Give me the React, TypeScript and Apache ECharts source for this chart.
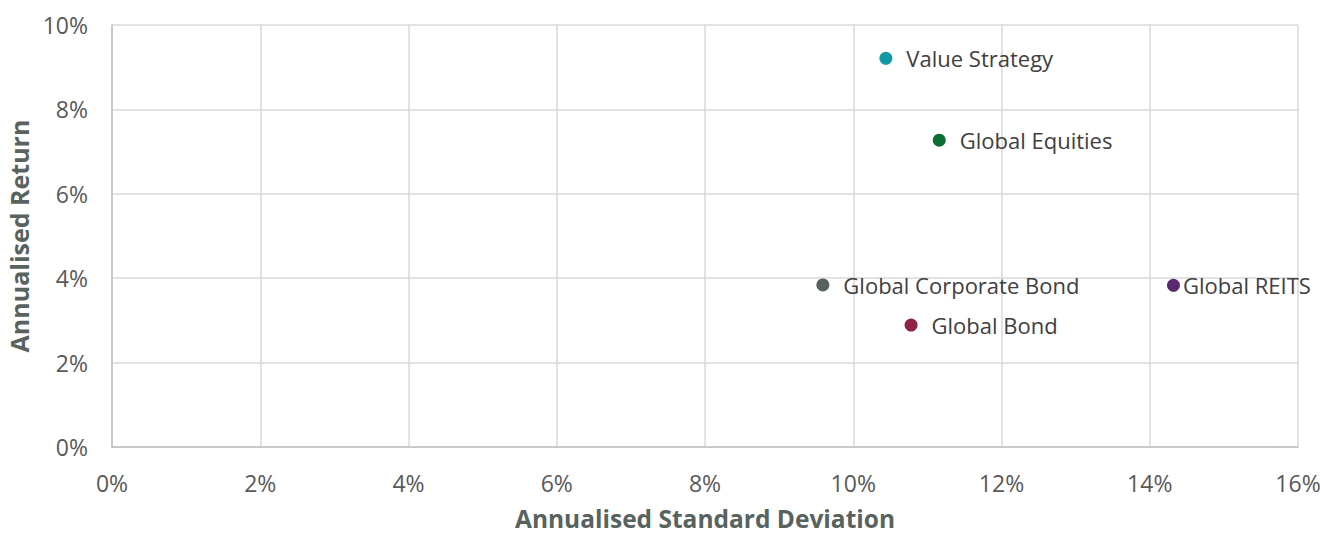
import React, { useEffect, useRef } from "react";
import * as echarts from "echarts";

const names = ["Value Strategy", "Global Equities", "Global Corporate Bond", "Global REITS", "Global Bond"];
const stdDev = [10.44, 11.16, 9.59, 14.32, 10.78];
const returns = [9.21, 7.27, 3.84, 3.83, 2.89];
const colors = ["#1199a6", "#0a6e36", "#56625e", "#5a2a6e", "#8e2347"];
const labelGaps = [14, 14, 14, 3, 14];
const xTicks = { min: 0, max: 16, step: 2 };
const yTicks = { min: 0, max: 10, step: 2 };

const FONT = "'Open Sans', 'Noto Sans', sans-serif";

export default function App() {
  const ref = useRef<HTMLDivElement>(null);
  useEffect(() => {
    document.body.style.margin = "0";
    if (!ref.current) return;
    const chart = echarts.init(ref.current, null, { renderer: "svg" });
    chart.setOption({
      animation: false,
      textStyle: { fontFamily: FONT },
      grid: { left: 112, right: 22, top: 25, bottom: 88, outerBoundsMode: "none", containLabel: false },
      xAxis: {
        type: "value",
        min: xTicks.min,
        max: xTicks.max,
        interval: xTicks.step,
        name: "Annualised Standard Deviation",
        nameLocation: "middle",
        nameGap: 71,
        nameTextStyle: {
          fontSize: 24.5,
          fontWeight: "bold",
          color: "#58635f",
          fontFamily: FONT,
          verticalAlign: "middle",
        },
        axisLine: { show: true, lineStyle: { color: "#bfbfbf", width: 1.5 } },
        axisTick: { show: false },
        axisLabel: { formatter: "{value}%", fontSize: 23, color: "#595959", margin: 24, fontFamily: FONT },
        splitLine: { show: true, lineStyle: { color: "#d9d9d9", width: 1.5 } },
      },
      yAxis: {
        type: "value",
        min: yTicks.min,
        max: yTicks.max,
        interval: yTicks.step,
        name: "Annualised Return",
        nameLocation: "middle",
        nameGap: 79,
        nameRotate: 90,
        nameTextStyle: { fontSize: 25, fontWeight: "bold", color: "#58635f", fontFamily: FONT, verticalAlign: "middle" },
        axisLine: { show: true, lineStyle: { color: "#bfbfbf", width: 1.5 } },
        axisTick: { show: false },
        axisLabel: { formatter: "{value}%", fontSize: 23, color: "#595959", margin: 24, fontFamily: FONT },
        splitLine: { show: true, lineStyle: { color: "#d9d9d9", width: 1.5 } },
      },
      series: [
        {
          type: "scatter",
          symbolSize: 13,
          data: names.map((n, i) => ({
            name: n,
            value: [stdDev[i], returns[i]],
            itemStyle: { color: colors[i], opacity: 1 },
            label: {
              show: true,
              position: "right",
              distance: labelGaps[i],
              formatter: n,
              fontSize: 22,
              color: "#404040",
              fontFamily: FONT,
            },
          })),
        },
      ],
    });
    return () => chart.dispose();
  }, []);
  return <div ref={ref} style={{ width: 1320, height: 535 }} />;
}
